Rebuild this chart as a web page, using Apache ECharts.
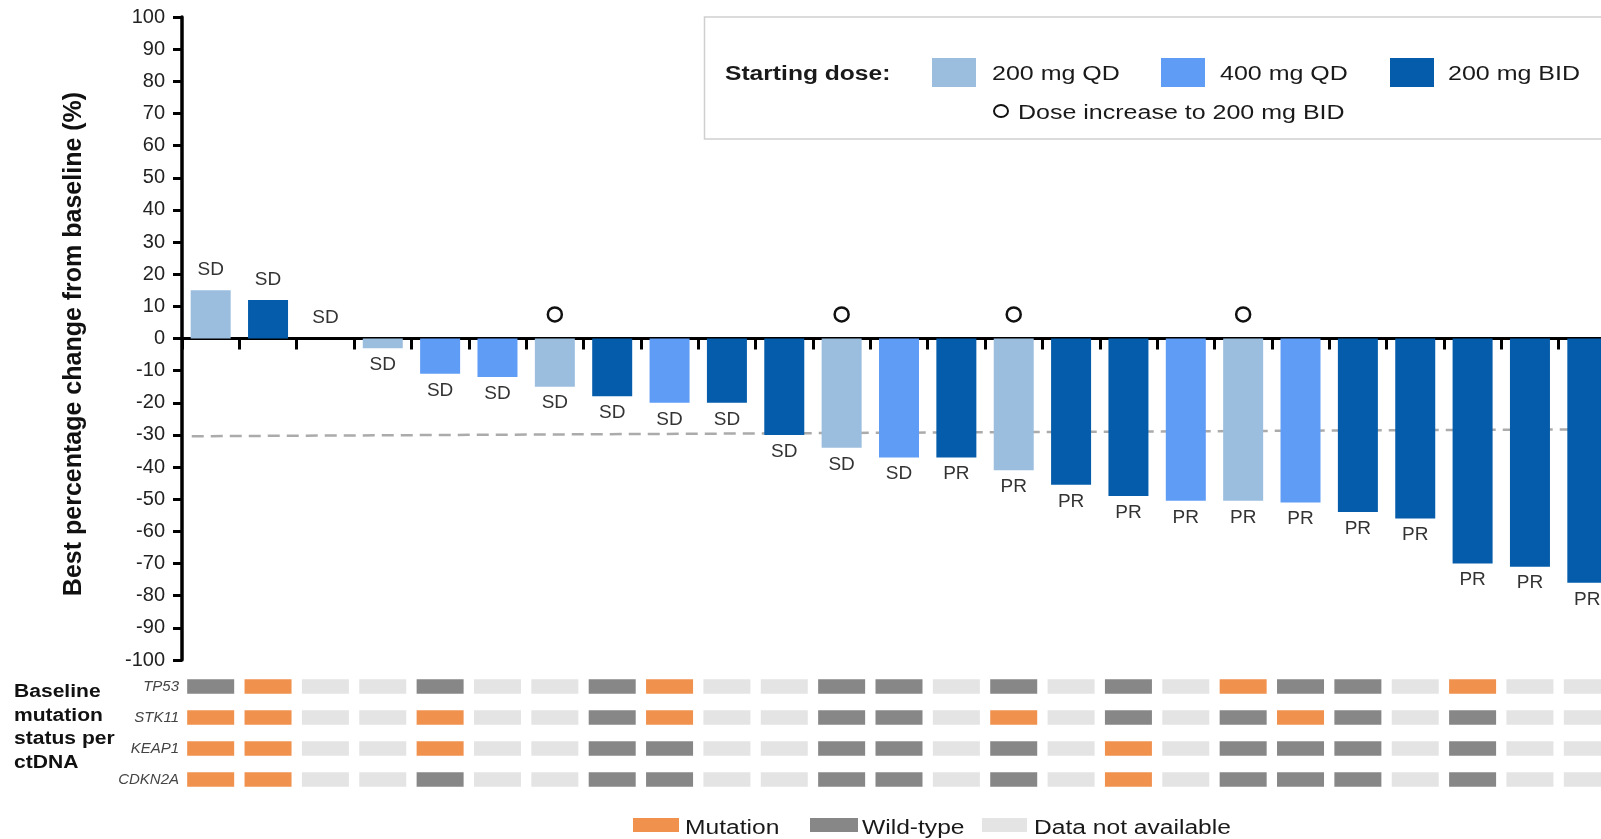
<!DOCTYPE html>
<html><head><meta charset="utf-8">
<script src="https://cdn.jsdelivr.net/npm/echarts@6/dist/echarts.min.js"></script>
<style>html,body{margin:0;padding:0;background:#fff}#c{width:1601px;height:839px}</style>
</head><body><div id="c"></div>
<script>
// ---------- data ----------
const patients = ['P1','P2','P3','P4','P5','P6','P7','P8','P9','P10','P11','P12','P13','P14','P15','P16','P17','P18','P19','P20','P21','P22','P23','P24','P25'];
const bestChange = [15, 12, 0, -3, -11, -12, -15, -18, -20, -20, -30, -34, -37, -37, -41, -45.5, -49, -50.5, -50.5, -51, -54, -56, -70, -71, -76];
const startingDose = ['200QD','BID','200QD','200QD','400QD','400QD','200QD','BID','400QD','BID','BID','200QD','400QD','BID','200QD','BID','BID','400QD','200QD','400QD','BID','BID','BID','BID','BID'];
const response = ['SD','SD','SD','SD','SD','SD','SD','SD','SD','SD','SD','SD','SD','PR','PR','PR','PR','PR','PR','PR','PR','PR','PR','PR','PR'];
const doseIncreased = [false,false,false,false,false,false,true,false,false,false,false,true,false,false,true,false,false,false,true,false,false,false,false,false,false];
const doseIncreaseMarkerLevel = 7.5;
const responseThreshold = [-30.4, -28.2]; // dashed reference line (left, right)
const yTicks = {min: -100, max: 100, step: 10};

const genes = ['TP53','STK11','KEAP1','CDKN2A'];
const tp53   = ['W','M','N','N','W','N','N','W','M','N','N','W','W','N','W','N','W','N','M','W','W','N','M','N','N'];
const stk11  = ['M','M','N','N','M','N','N','W','M','N','N','W','W','N','M','N','W','N','W','M','W','N','W','N','N'];
const keap1  = ['M','M','N','N','M','N','N','W','W','N','N','W','W','N','W','N','M','N','W','W','W','N','W','N','N'];
const cdkn2a = ['M','M','N','N','W','N','N','W','W','N','N','W','W','N','W','N','M','N','W','W','W','N','W','N','N'];

const doseNames = {'200QD':'200 mg QD','400QD':'400 mg QD','BID':'200 mg BID'};
const statusNames = {M:'Mutation', W:'Wild-type', N:'Data not available'};

// ---------- styles ----------
const doseColors = {'200QD':'#9BBEDF','400QD':'#5F9CF5','BID':'#055CAA'};
const statusColors = {M:'#F0914E', W:'#878787', N:'#E4E4E4'};
const FONT = '"Liberation Sans", Arial, sans-serif';

const geneRows = [tp53, stk11, keap1, cdkn2a];
const cells = [];
geneRows.forEach((row, g) => row.forEach((s, i) => cells.push([i, g, s])));

const barSeries = Object.keys(doseNames).map(k => ({
  name: doseNames[k],
  type: 'bar',
  xAxisIndex: 0, yAxisIndex: 0,
  barWidth: 40,
  barGap: '-100%',
  z: 3,
  itemStyle: {color: doseColors[k]},
  data: bestChange.map((v, i) => startingDose[i] === k
    ? {value: v, label: v >= 0 ? {position: 'top', distance: 11} : {position: 'bottom', distance: 7}}
    : '-'),
  label: {
    show: true,
    fontFamily: FONT, fontSize: 19, color: '#333',
    formatter: p => response[p.dataIndex]
  }
}));

const chart = echarts.init(document.getElementById('c'), null, {renderer: 'canvas'});

const legendTextStyle = (t, bold, size) => ({text: t, fill: '#1a1a1a', fontFamily: FONT, fontSize: size || 20, fontWeight: bold ? 'bold' : 'normal', verticalAlign: 'middle', align: 'left'});

chart.setOption({
  animation: false,
  backgroundColor: '#fff',
  grid: [
    {left: 182, width: 1434, top: 17, height: 643, outerBoundsMode: 'none', containLabel: false},
    {left: 182, width: 1434, top: 671, height: 124, outerBoundsMode: 'none', containLabel: false}
  ],
  xAxis: [
    {type: 'category', gridIndex: 0, data: patients, position: 'bottom',
     axisLine: {onZero: true, lineStyle: {color: '#000', width: 3}},
     axisTick: {show: true, interval: 0, length: 11, lineStyle: {color: '#000', width: 3}},
     axisLabel: {show: false}, splitLine: {show: false}},
    {type: 'value', gridIndex: 0, min: 0, max: patients.length, show: false},
    {type: 'category', gridIndex: 1, data: patients, show: false}
  ],
  yAxis: [
    {type: 'value', gridIndex: 0, min: yTicks.min, max: yTicks.max, interval: yTicks.step,
     name: 'Best percentage change from baseline (%)', nameLocation: 'middle', nameGap: 95,
     nameTextStyle: {fontFamily: FONT, fontSize: 25, fontWeight: 'bold', color: '#111', padding: [0, 11, 0, 0]},
     axisLine: {show: true, lineStyle: {color: '#000', width: 3.5}},
     axisTick: {show: true, length: 9, lineStyle: {color: '#000', width: 3}},
     axisLabel: {fontFamily: FONT, fontSize: 20, color: '#222', margin: 17},
     splitLine: {show: false}},
    {type: 'category', gridIndex: 1, data: genes, inverse: true,
     axisLine: {show: false}, axisTick: {show: false}, splitLine: {show: false},
     axisLabel: {fontFamily: FONT, fontSize: 15, fontStyle: 'italic', color: '#444', margin: 3}}
  ],
  series: [
    {type: 'line', xAxisIndex: 1, yAxisIndex: 0, z: 1, symbol: 'none', silent: true,
     lineStyle: {color: '#ABABAB', width: 2.5, type: [12, 7]},
     data: [[0.17, responseThreshold[0]], [patients.length, responseThreshold[1]]]},
    ...barSeries,
    {type: 'scatter', name: 'Dose increase to 200 mg BID', xAxisIndex: 0, yAxisIndex: 0, z: 4,
     symbol: 'circle', symbolSize: 14,
     itemStyle: {color: '#fff', borderColor: '#111', borderWidth: 2.5, opacity: 1},
     data: doseIncreased.map((d, i) => d ? [i, doseIncreaseMarkerLevel] : null).filter(Boolean)},
    {type: 'scatter', name: 'mutation status', xAxisIndex: 2, yAxisIndex: 1,
     symbol: 'rect', symbolSize: [47, 14.5],
     itemStyle: {color: p => statusColors[p.data[2]], opacity: 1},
     data: cells}
  ],
  graphic: [
    // top legend box
    {type: 'rect', shape: {x: 704.5, y: 17, width: 940, height: 122},
     style: {fill: '#fff', stroke: '#CFCFCF', lineWidth: 1.5}, z: 0},
    {type: 'text', x: 725, y: 74.5, scaleX: 1.23, style: legendTextStyle('Starting dose:', true)},
    {type: 'rect', shape: {x: 932, y: 58, width: 44, height: 29}, style: {fill: doseColors['200QD']}},
    {type: 'text', x: 992, y: 74.5, scaleX: 1.25, style: legendTextStyle(doseNames['200QD'])},
    {type: 'rect', shape: {x: 1161, y: 58, width: 44, height: 29}, style: {fill: doseColors['400QD']}},
    {type: 'text', x: 1220, y: 74.5, scaleX: 1.25, style: legendTextStyle(doseNames['400QD'])},
    {type: 'rect', shape: {x: 1390, y: 58, width: 44, height: 29}, style: {fill: doseColors['BID']}},
    {type: 'text', x: 1448, y: 74.5, scaleX: 1.25, style: legendTextStyle(doseNames['BID'])},
    {type: 'ellipse', shape: {cx: 1001, cy: 111, rx: 7, ry: 6}, style: {fill: 'none', stroke: '#111', lineWidth: 2}},
    {type: 'text', x: 1018, y: 113, scaleX: 1.25, style: legendTextStyle('Dose increase to 200 mg BID')},
    // heatmap side title
    {type: 'text', x: 14, y: 680, scaleX: 1.17,
     style: {text: 'Baseline\nmutation\nstatus per\nctDNA', fill: '#111', fontFamily: FONT, fontSize: 18, fontWeight: 'bold', lineHeight: 23.7, verticalAlign: 'top', align: 'left'}},
    // bottom legend
    {type: 'rect', shape: {x: 633, y: 818, width: 46, height: 14}, style: {fill: statusColors.M}},
    {type: 'text', x: 685, y: 828, scaleX: 1.23, style: legendTextStyle(statusNames.M)},
    {type: 'rect', shape: {x: 810, y: 818, width: 48, height: 14}, style: {fill: statusColors.W}},
    {type: 'text', x: 862, y: 828, scaleX: 1.23, style: legendTextStyle(statusNames.W)},
    {type: 'rect', shape: {x: 982, y: 818, width: 45, height: 14}, style: {fill: statusColors.N}},
    {type: 'text', x: 1034, y: 828, scaleX: 1.23, style: legendTextStyle(statusNames.N)}
  ]
});
</script>
</body></html>
